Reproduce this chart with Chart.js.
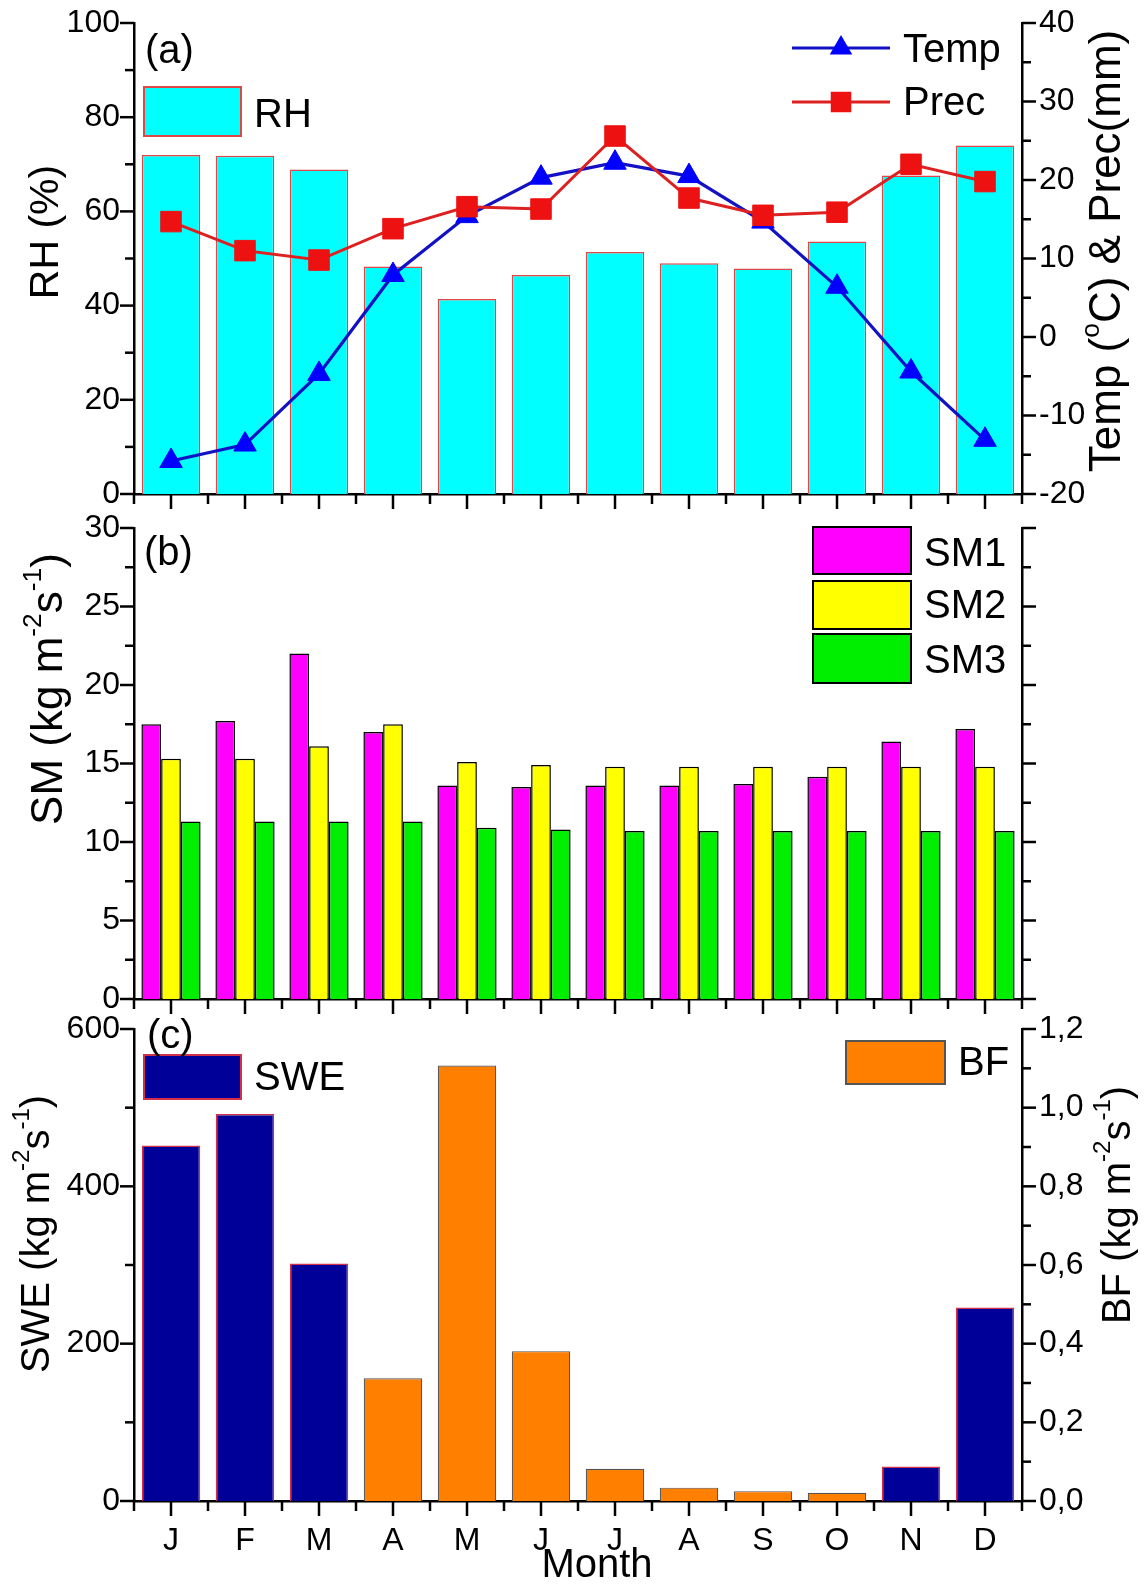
<!DOCTYPE html>
<html lang="en">
<head>
<meta charset="UTF-8">
<title>Monthly RH, Temp, Prec, SM, SWE and BF</title>
<script src="https://cdn.jsdelivr.net/npm/chart.js"></script>
<style>
    body {
        margin: 0;
        background: #fff;
    }
    .wrap {
        position: relative;
        width: 1148px;
        height: 1586px;
    }
    .wrap canvas {
        position: absolute;
        left: 0;
    }
</style>
</head>
<body>
<div class="wrap">
    <canvas id="chartA" width="1148" height="515" style="top:0px"></canvas>
    <canvas id="chartB" width="1148" height="520" style="top:505px"></canvas>
    <canvas id="chartC" width="1148" height="581" style="top:1005px"></canvas>
</div>

<script>
    // ---- data ----
    const months = ['J', 'F', 'M', 'A', 'M', 'J', 'J', 'A', 'S', 'O', 'N', 'D'];

    const rh   = [72.0, 71.8, 68.9, 48.3, 41.4, 46.5, 51.4, 49.0, 47.9, 53.6, 67.6, 74.0];
    const temp = [-15.8, -13.7, -4.7, 7.9, 15.4, 20.3, 22.2, 20.5, 14.7, 6.4, -4.4, -13.1];
    const prec = [14.7, 11.0, 9.8, 13.8, 16.6, 16.3, 25.6, 17.7, 15.5, 15.9, 22.0, 19.8];

    const sm1 = [17.5, 17.7, 22.0, 17.0, 13.6, 13.5, 13.6, 13.6, 13.7, 14.15, 16.4, 17.2];
    const sm2 = [15.3, 15.3, 16.1, 17.5, 15.1, 14.9, 14.8, 14.8, 14.8, 14.8, 14.8, 14.8];
    const sm3 = [11.3, 11.3, 11.3, 11.3, 10.9, 10.8, 10.7, 10.7, 10.7, 10.7, 10.7, 10.7];

    const swe = [452, 492, 302, null, null, null, null, null, null, null, 44, 246];
    const bf  = [null, null, null, 0.312, 1.107, 0.381, 0.082, 0.034, 0.025, 0.021, null, null];

    const FONT = "'Liberation Sans', Arial, sans-serif";
    Chart.defaults.font.family = FONT;
    Chart.defaults.color = '#000';
    Chart.defaults.animation = false;

    const LEFT_W = 134;     // left axis box -> plot starts at x=134
    const RIGHT_W = 126;    // right axis box -> plot ends at x=1022
    const TICK_FONT = 32;

    // draws tick marks, panel labels, legends and axis titles
    const deco = {
        id: 'deco',
        afterDraw(chart, args, opts) {
            const ctx = chart.ctx;
            const off = opts.offset || 0;
            ctx.save();
            ctx.strokeStyle = '#000';
            ctx.lineWidth = 2.5;

            const seg = (x1, y1, x2, y2) => {
                ctx.beginPath();
                ctx.moveTo(x1, y1);
                ctx.lineTo(x2, y2);
                ctx.stroke();
            };

            // ticks
            (opts.axes || []).forEach(a => {
                const s = chart.scales[a.id];
                if (a.id === 'x') {
                    const n = chart.data.labels.length;
                    for (let i = 0; i < n; i++) {
                        const px = s.getPixelForValue(i);
                        seg(px, s.top, px, s.top + 15);
                    }
                    for (let i = 0; i <= n; i++) {
                        const px = s.getPixelForValue(i - 0.5);
                        seg(px, s.top, px, s.top + 10);
                    }
                } else {
                    const isLeft = s.position === 'left';
                    const x0 = isLeft ? s.right : s.left;
                    for (let k = 0; ; k++) {
                        const v = s.min + k * a.minor;
                        if (v > s.max + 1e-9) break;
                        const r = v / a.major;
                        const len = Math.abs(r - Math.round(r)) < 1e-6 ? 14 : 9;
                        const py = s.getPixelForValue(v);
                        seg(x0, py, isLeft ? x0 - len : x0 + len, py);
                    }
                }
            });

            // legend boxes
            (opts.boxes || []).forEach(b => {
                ctx.fillStyle = b.fill;
                ctx.fillRect(b.x, b.y - off, b.w, b.h);
                ctx.strokeStyle = b.stroke;
                ctx.lineWidth = 2;
                ctx.strokeRect(b.x, b.y - off, b.w, b.h);
            });

            // legend line samples
            (opts.lines || []).forEach(l => {
                const y = l.y - off;
                ctx.strokeStyle = l.color;
                ctx.lineWidth = 3;
                seg(l.x1, y, l.x2, y);
                const cx = (l.x1 + l.x2) / 2;
                ctx.fillStyle = l.marker;
                ctx.beginPath();
                if (l.shape === 'triangle') {
                    const r = l.r;
                    ctx.moveTo(cx, y - r);
                    ctx.lineTo(cx + r * 0.866, y + r / 2);
                    ctx.lineTo(cx - r * 0.866, y + r / 2);
                    ctx.closePath();
                } else {
                    const h = l.r * Math.SQRT1_2;
                    ctx.rect(cx - h, y - h, 2 * h, 2 * h);
                }
                ctx.fill();
            });

            // texts
            ctx.fillStyle = '#000';
            (opts.texts || []).forEach(t => {
                const size = t.size || 40;
                const parts = typeof t.text === 'string' ? [{ t: t.text }] : t.text;
                ctx.save();
                ctx.translate(t.x, t.y - off);
                if (t.rotate) ctx.rotate(-Math.PI / 2);
                ctx.textBaseline = t.rotate ? 'middle' : 'alphabetic';
                ctx.textAlign = 'left';
                let w = 0;
                parts.forEach(p => {
                    ctx.font = (p.sup ? size * 0.6 : size) + 'px ' + FONT;
                    w += ctx.measureText(p.t).width;
                });
                let x = t.align === 'center' ? -w / 2 : 0;
                parts.forEach(p => {
                    ctx.font = (p.sup ? size * 0.6 : size) + 'px ' + FONT;
                    ctx.fillText(p.t, x, p.sup ? -size * 0.38 : 0);
                    x += ctx.measureText(p.t).width;
                });
                ctx.restore();
            });
            ctx.restore();
        }
    };

    function xAxis(height, showLabels) {
        return {
            afterFit: s => {
                s.height = height;
                s.paddingLeft = 0;
                s.paddingRight = 0;
            },
            grid: { display: false, drawTicks: false, tickLength: 0 },
            border: { display: true, color: '#000', width: 2.5 },
            ticks: {
                display: showLabels,
                autoSkip: false,
                maxRotation: 0,
                padding: 21,
                font: { size: TICK_FONT },
                color: '#000'
            }
        };
    }

    function yAxis(position, min, max, step, showLabels, fmt) {
        const ticks = {
            display: showLabels,
            stepSize: step,
            padding: position === 'left' ? 14 : 17,
            font: { size: TICK_FONT },
            color: '#000'
        };
        if (fmt) ticks.callback = fmt;
        return {
            position: position,
            min: min,
            max: max,
            afterFit: s => {
                s.width = position === 'left' ? LEFT_W : RIGHT_W;
                // labels may overhang the plot; keep the plot area fixed
                s.paddingTop = 0;
                s.paddingBottom = 0;
            },
            grid: { display: false, drawTicks: false, tickLength: 0 },
            border: { display: true, color: '#000', width: 2.5 },
            ticks: ticks
        };
    }

    const unitParts = [{ t: ' (kg m' }, { t: '-2', sup: true }, { t: 's' }, { t: '-1', sup: true }, { t: ')' }];

    // ---------- (a) RH bars + Temp / Prec lines ----------
    new Chart(document.getElementById('chartA'), {
        type: 'bar',
        data: {
            labels: months,
            datasets: [
                {
                    type: 'line', label: 'Prec', data: prec, yAxisID: 'y2', order: 0,
                    borderColor: '#dd2020', borderWidth: 3,
                    pointStyle: 'rect', pointRadius: 14.5,
                    pointBackgroundColor: '#ee1111', pointBorderColor: '#ee1111', pointBorderWidth: 1
                },
                {
                    type: 'line', label: 'Temp', data: temp, yAxisID: 'y2', order: 1,
                    borderColor: '#1212c4', borderWidth: 3.2,
                    pointStyle: 'triangle', pointRadius: 13,
                    pointBackgroundColor: '#0000ff', pointBorderColor: '#0000ff', pointBorderWidth: 1
                },
                {
                    label: 'RH', data: rh, yAxisID: 'y', order: 2,
                    backgroundColor: '#00ffff', borderColor: '#e04848', borderWidth: 1.5,
                    barPercentage: 0.79, categoryPercentage: 1
                }
            ]
        },
        options: {
            responsive: false,
            layout: { padding: { top: 23, left: 0, right: 0, bottom: 0 } },
            scales: {
                x: xAxis(21, false),
                y: yAxis('left', 0, 100, 20, true),
                y2: yAxis('right', -20, 40, 10, true)
            },
            plugins: {
                legend: { display: false },
                tooltip: { enabled: false },
                deco: {
                    offset: 0,
                    axes: [
                        { id: 'x' },
                        { id: 'y', major: 20, minor: 10 },
                        { id: 'y2', major: 10, minor: 5 }
                    ],
                    boxes: [
                        { x: 144, y: 87, w: 97, h: 49, fill: '#00ffff', stroke: '#e04848' }
                    ],
                    lines: [
                        { x1: 792, x2: 890, y: 48, color: '#1212c4', marker: '#0000ff', shape: 'triangle', r: 13 },
                        { x1: 792, x2: 890, y: 102, color: '#dd2020', marker: '#ee1111', shape: 'rect', r: 14.5 }
                    ],
                    texts: [
                        { text: '(a)', x: 145, y: 63 },
                        { text: 'RH', x: 254, y: 127 },
                        { text: 'Temp', x: 903, y: 62 },
                        { text: 'Prec', x: 903, y: 115 },
                        { text: 'RH (%)', x: 47, y: 232, rotate: true, align: 'center', size: 41 },
                        {
                            text: [{ t: 'Temp (' }, { t: 'o', sup: true }, { t: 'C) & Prec(mm)' }],
                            x: 1108, y: 251, rotate: true, align: 'center', size: 44
                        }
                    ]
                }
            }
        },
        plugins: [deco]
    });

    // ---------- (b) soil moisture layers ----------
    new Chart(document.getElementById('chartB'), {
        type: 'bar',
        data: {
            labels: months,
            datasets: [
                { label: 'SM1', data: sm1, backgroundColor: '#ff00ff', borderColor: '#000', borderWidth: 1.5 },
                { label: 'SM2', data: sm2, backgroundColor: '#ffff00', borderColor: '#000', borderWidth: 1.5 },
                { label: 'SM3', data: sm3, backgroundColor: '#00ee00', borderColor: '#000', borderWidth: 1.5 }
            ]
        },
        options: {
            responsive: false,
            datasets: { bar: { barPercentage: 1, categoryPercentage: 0.8 } },
            layout: { padding: { top: 23, left: 0, right: 0, bottom: 0 } },
            scales: {
                x: xAxis(26, false),
                y: yAxis('left', 0, 30, 5, true),
                y2: yAxis('right', 0, 30, 5, false)
            },
            plugins: {
                legend: { display: false },
                tooltip: { enabled: false },
                deco: {
                    offset: 505,
                    axes: [
                        { id: 'x' },
                        { id: 'y', major: 5, minor: 2.5 },
                        { id: 'y2', major: 5, minor: 2.5 }
                    ],
                    boxes: [
                        { x: 813, y: 527, w: 98, h: 47, fill: '#ff00ff', stroke: '#000' },
                        { x: 813, y: 581, w: 98, h: 48, fill: '#ffff00', stroke: '#000' },
                        { x: 813, y: 634, w: 98, h: 49, fill: '#00ee00', stroke: '#000' }
                    ],
                    texts: [
                        { text: '(b)', x: 144, y: 565 },
                        { text: 'SM1', x: 924, y: 566 },
                        { text: 'SM2', x: 924, y: 618 },
                        { text: 'SM3', x: 924, y: 673 },
                        { text: [{ t: 'SM' }].concat(unitParts), x: 50, y: 689, rotate: true, align: 'center', size: 44 }
                    ]
                }
            }
        },
        plugins: [deco]
    });

    // ---------- (c) SWE and BF ----------
    new Chart(document.getElementById('chartC'), {
        type: 'bar',
        data: {
            labels: months,
            datasets: [
                {
                    label: 'SWE', data: swe, yAxisID: 'y',
                    backgroundColor: '#000099', borderColor: '#d0304a', borderWidth: 1.5
                },
                {
                    label: 'BF', data: bf, yAxisID: 'y2',
                    backgroundColor: '#ff8000', borderColor: '#555555', borderWidth: 1.2
                }
            ]
        },
        options: {
            responsive: false,
            datasets: { bar: { grouped: false, barPercentage: 0.79, categoryPercentage: 1 } },
            layout: { padding: { top: 24, left: 0, right: 0, bottom: 0 } },
            scales: {
                x: xAxis(85, true),
                y: yAxis('left', 0, 600, 200, true),
                y2: yAxis('right', 0, 1.2, 0.2, true, v => v.toFixed(1).replace('.', ','))
            },
            plugins: {
                legend: { display: false },
                tooltip: { enabled: false },
                deco: {
                    offset: 1005,
                    axes: [
                        { id: 'x' },
                        { id: 'y', major: 200, minor: 100 },
                        { id: 'y2', major: 0.2, minor: 0.1 }
                    ],
                    boxes: [
                        { x: 144, y: 1055, w: 97, h: 44, fill: '#000099', stroke: '#d0304a' },
                        { x: 846, y: 1041, w: 99, h: 43, fill: '#ff8000', stroke: '#555555' }
                    ],
                    texts: [
                        { text: '(c)', x: 147, y: 1048 },
                        { text: 'SWE', x: 254, y: 1090 },
                        { text: 'BF', x: 958, y: 1075 },
                        { text: 'Month', x: 597, y: 1577, align: 'center' },
                        { text: [{ t: 'SWE' }].concat(unitParts), x: 38, y: 1234, rotate: true, align: 'center' },
                        { text: [{ t: 'BF' }].concat(unitParts), x: 1119, y: 1205, rotate: true, align: 'center' }
                    ]
                }
            }
        },
        plugins: [deco]
    });
</script>
</body>
</html>
